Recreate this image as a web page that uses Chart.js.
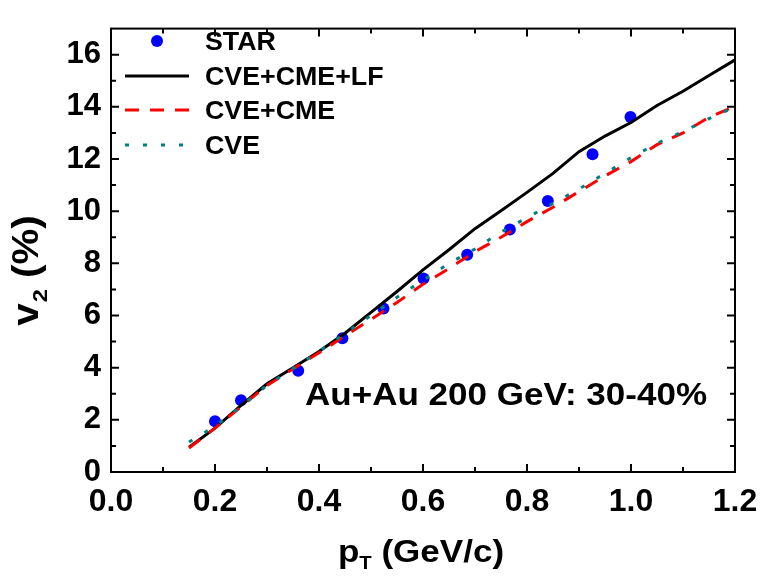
<!DOCTYPE html>
<html lang="en">
<head>
    <meta charset="UTF-8">
    <title>v2 vs pT</title>
    <style>
        body { margin: 0; background: #fff; }
        canvas { display: block; }
    </style>
</head>
<body>
    <canvas id="myChart" width="763" height="580"></canvas>

    <script src="https://cdn.jsdelivr.net/npm/chart.js"></script>
    <script>
        // STAR data points
        var starPt = [0.20, 0.25, 0.36, 0.445, 0.524, 0.601, 0.685, 0.767, 0.840, 0.926, 0.999];
        var starV2 = [1.95, 2.75, 3.88, 5.13, 6.27, 7.42, 8.33, 9.30, 10.39, 12.18, 13.61];

        // model curves, sampled every 0.05 GeV/c
        var curvePt = [0.15, 0.20, 0.25, 0.30, 0.35, 0.40, 0.45, 0.50, 0.55, 0.60, 0.65,
                       0.70, 0.75, 0.80, 0.85, 0.90, 0.95, 1.00, 1.05, 1.10, 1.15, 1.20];
        var cveCmeLf = [0.95, 1.68, 2.55, 3.38, 4.00, 4.62, 5.32, 6.12, 6.92, 7.75, 8.52,
                        9.33, 10.02, 10.72, 11.45, 12.28, 12.88, 13.40, 14.05, 14.60, 15.20, 15.80];
        var cveCme = [0.92, 1.68, 2.50, 3.32, 3.95, 4.57, 5.22, 5.85, 6.50, 7.20, 7.80,
                      8.45, 9.00, 9.60, 10.15, 10.75, 11.35, 11.90, 12.55, 13.00, 13.60, 14.02];
        var cve = [1.15, 1.75, 2.52, 3.32, 3.97, 4.62, 5.32, 6.00, 6.70, 7.35, 8.00,
                   8.55, 9.20, 9.75, 10.30, 10.85, 11.45, 12.05, 12.60, 13.05, 13.55, 14.00];

        var xTicks = [0.0, 0.2, 0.4, 0.6, 0.8, 1.0, 1.2];
        var yTicks = [0, 2, 4, 6, 8, 10, 12, 14, 16];

        function toPoints(xs, ys) {
            return xs.map(function (x, i) { return { x: x, y: ys[i] }; });
        }

        var FONT = '"Liberation Sans", Arial, sans-serif';

        // text in the original is a bit wider than Arial, so stretch it
        function wideText(ctx, text, x, y, sx) {
            ctx.save();
            ctx.translate(x, y);
            ctx.scale(sx, 1);
            ctx.fillText(text, 0, 0);
            ctx.restore();
            return ctx.measureText(text).width * sx;
        }

        var decorations = {
            id: 'decorations',
            afterDraw: function (chart) {
                var ctx = chart.ctx;
                var a = chart.chartArea;
                var xs = chart.scales.x, ys = chart.scales.y;
                ctx.save();

                // frame
                ctx.strokeStyle = '#000';
                ctx.lineWidth = 2;
                ctx.strokeRect(a.left, a.top, a.right - a.left, a.bottom - a.top);

                // inward ticks on all four sides
                ctx.beginPath();
                for (var i = 0; i <= 12; i++) {
                    var px = xs.getPixelForValue(i / 10);
                    var len = (i % 2 === 0) ? 8 : 5;
                    ctx.moveTo(px, a.bottom); ctx.lineTo(px, a.bottom - len);
                    ctx.moveTo(px, a.top); ctx.lineTo(px, a.top + len);
                }
                for (var j = 0; j <= 16; j++) {
                    var py = ys.getPixelForValue(j);
                    var l2 = (j % 2 === 0) ? 8 : 5;
                    ctx.moveTo(a.left, py); ctx.lineTo(a.left + l2, py);
                    ctx.moveTo(a.right, py); ctx.lineTo(a.right - l2, py);
                }
                ctx.stroke();

                // legend
                var ds = chart.data.datasets;
                ctx.fillStyle = '#000';
                ctx.font = 'bold 26px ' + FONT;
                ctx.textBaseline = 'alphabetic';
                ctx.textAlign = 'left';
                var rows = [41, 76, 110, 145];
                ds.forEach(function (d, k) {
                    var y = rows[k];
                    if (!d.showLine) {
                        ctx.beginPath();
                        ctx.fillStyle = d.backgroundColor;
                        ctx.arc(157, y, 6, 0, Math.PI * 2);
                        ctx.fill();
                    } else {
                        ctx.beginPath();
                        ctx.strokeStyle = d.borderColor;
                        ctx.lineWidth = d.borderWidth;
                        ctx.setLineDash(d.borderDash || []);
                        ctx.moveTo(125, y); ctx.lineTo(189, y);
                        ctx.stroke();
                        ctx.setLineDash([]);
                    }
                    ctx.fillStyle = '#000';
                    wideText(ctx, d.label, 205, y + 9, 1.03);
                });

                // annotation
                ctx.font = 'bold 31px ' + FONT;
                wideText(ctx, 'Au+Au 200 GeV: 30-40%', 305, 405, 1.13);

                // y title: v_2 (%)
                ctx.save();
                ctx.translate(38, 271);
                ctx.rotate(-Math.PI / 2);
                var sy = 1.12;
                var f1 = 'bold 36px ' + FONT, f2 = 'bold 21px ' + FONT;
                ctx.font = f1; var w1 = ctx.measureText('v').width * sy;
                ctx.font = f2; var w2 = ctx.measureText('2').width * sy;
                ctx.font = f1; var w3 = ctx.measureText(' (%)').width * sy;
                var x0 = -(w1 + w2 + w3) / 2;
                ctx.font = f1; wideText(ctx, 'v', x0, 0, sy);
                ctx.font = f2; wideText(ctx, '2', x0 + w1 + 1, 9, sy);
                ctx.font = f1; wideText(ctx, ' (%)', x0 + w1 + w2 + 1, 0, sy);
                ctx.restore();

                // x title: p_T (GeV/c)
                var sx = 1.13;
                var g1 = 'bold 31px ' + FONT, g2 = 'bold 18px ' + FONT;
                ctx.font = g1; var v1 = ctx.measureText('p').width * sx;
                ctx.font = g2; var v2 = ctx.measureText('T').width * sx;
                ctx.font = g1; var v3 = ctx.measureText(' (GeV/c)').width * sx;
                var xx = 421 - (v1 + v2 + v3) / 2;
                ctx.font = g1; wideText(ctx, 'p', xx, 562, sx);
                ctx.font = g2; wideText(ctx, 'T', xx + v1, 569, sx);
                ctx.font = g1; wideText(ctx, ' (GeV/c)', xx + v1 + v2, 562, sx);

                ctx.restore();
            }
        };

        var ctx = document.getElementById('myChart').getContext('2d');
        var myChart = new Chart(ctx, {
            type: 'scatter',
            data: {
                datasets: [{
                    label: 'STAR',
                    data: toPoints(starPt, starV2),
                    showLine: false,
                    pointRadius: 6,
                    pointBackgroundColor: '#0000ff',
                    backgroundColor: '#0000ff',
                    pointBorderWidth: 0,
                    order: 4
                }, {
                    label: 'CVE+CME+LF',
                    data: toPoints(curvePt, cveCmeLf),
                    showLine: true,
                    borderColor: '#000000',
                    borderWidth: 3,
                    pointRadius: 0,
                    order: 3
                }, {
                    label: 'CVE+CME',
                    data: toPoints(curvePt, cveCme),
                    showLine: true,
                    borderColor: '#ff0000',
                    borderWidth: 3,
                    borderDash: [14, 11],
                    pointRadius: 0,
                    order: 2
                }, {
                    label: 'CVE',
                    data: toPoints(curvePt, cve),
                    showLine: true,
                    borderColor: '#008080',
                    borderWidth: 3,
                    borderDash: [4, 14],
                    pointRadius: 0,
                    order: 1
                }]
            },
            options: {
                responsive: false,
                animation: false,
                layout: { padding: { left: 0, top: 9, right: 28, bottom: 0 } },
                plugins: {
                    legend: { display: false },
                    tooltip: { enabled: false }
                },
                scales: {
                    x: {
                        type: 'linear',
                        min: 0,
                        max: 1.2,
                        grid: { display: false, drawTicks: false },
                        border: { display: true, color: '#000', width: 2 },
                        afterBuildTicks: function (s) {
                            s.ticks = xTicks.map(function (v) { return { value: v }; });
                        },
                        ticks: {
                            color: '#000',
                            padding: 11,
                            font: { family: FONT, size: 32, weight: 'bold' },
                            maxRotation: 0,
                            callback: function (v) { return v.toFixed(1); }
                        },
                        afterFit: function (s) {
                            s.height = 108;
                            s.paddingLeft = 0;
                            s.paddingRight = 0;
                        }
                    },
                    y: {
                        type: 'linear',
                        min: 0,
                        max: 17,
                        grid: { display: false, drawTicks: false },
                        border: { display: true, color: '#000', width: 2 },
                        afterBuildTicks: function (s) {
                            s.ticks = yTicks.map(function (v) { return { value: v }; });
                        },
                        ticks: {
                            color: '#000',
                            padding: 10,
                            font: { family: FONT, size: 31, weight: 'bold' },
                            callback: function (v) { return String(v); }
                        },
                        afterFit: function (s) { s.width = 111; }
                    }
                }
            },
            plugins: [decorations]
        });
    </script>
</body>
</html>
